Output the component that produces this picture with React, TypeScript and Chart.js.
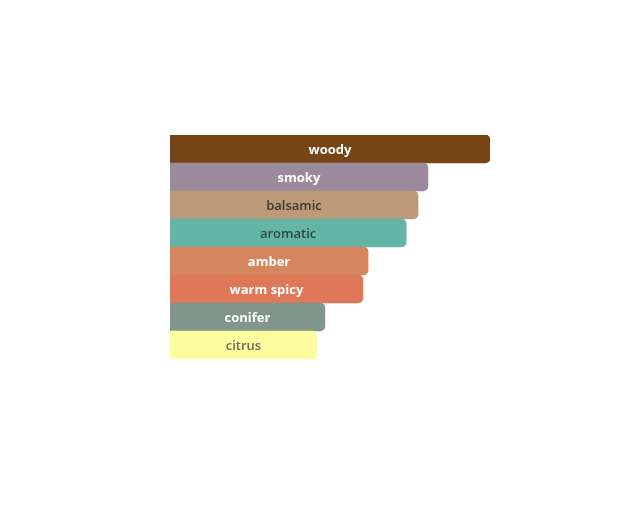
import { useEffect, useRef } from "react"
import { Chart, registerables } from "chart.js"

Chart.register(...registerables)

const notes = ["woody", "smoky", "balsamic", "aromatic", "amber", "warm spicy", "conifer", "citrus"]
const strength = [100, 80.6, 77.5, 73.8, 61.9, 60.3, 48.4, 45.9]
const barColors = ["#764515", "#9a8a9b", "#bc9977", "#64b5a5", "#d5865e", "#de7858", "#81958a", "#fdfda0"]
const labelColors = ["#ffffff", "#ffffff", "#3a3a3a", "#2f4a45", "#ffffff", "#ffffff", "#ffffff", "#6b6b55"]

// draw each note's name centred in its bar
const insideLabels = {
  id: "insideLabels",
  afterDatasetsDraw(chart: Chart) {
    const { ctx } = chart
    const meta = chart.getDatasetMeta(0)
    ctx.save()
    ctx.textAlign = "center"
    ctx.textBaseline = "middle"
    meta.data.forEach((bar: any, i: number) => {
      const light = labelColors[i] !== "#ffffff"
      ctx.font = `${light ? 600 : 700} 13px "Open Sans", sans-serif`
      ctx.fillStyle = labelColors[i]
      ctx.fillText(notes[i], (bar.base + bar.x) / 2, bar.y + 1)
    })
    ctx.restore()
  },
}

const App = () => {
  const canvasRef = useRef<HTMLCanvasElement>(null)

  useEffect(() => {
    if (!canvasRef.current) return
    const chart = new Chart(canvasRef.current, {
      type: "bar",
      data: {
        labels: notes,
        datasets: [
          {
            data: strength,
            backgroundColor: barColors,
            borderWidth: 0,
            borderRadius: 5,
            barPercentage: 1,
            categoryPercentage: 1,
          },
        ],
      },
      options: {
        indexAxis: "y",
        responsive: true,
        maintainAspectRatio: false,
        animation: false,
        layout: { padding: { left: 170, right: 127, top: 135, bottom: 146 } },
        plugins: { legend: { display: false }, tooltip: { enabled: false } },
        scales: {
          x: { display: false, min: 0, max: 100 },
          y: { display: false },
        },
      },
      plugins: [insideLabels],
    })
    return () => chart.destroy()
  }, [])

  return (
    <div style={{ position: "fixed", left: 0, top: 0, width: 617, height: 505, background: "#fff" }}>
      <canvas ref={canvasRef} />
    </div>
  )
}

export default App
